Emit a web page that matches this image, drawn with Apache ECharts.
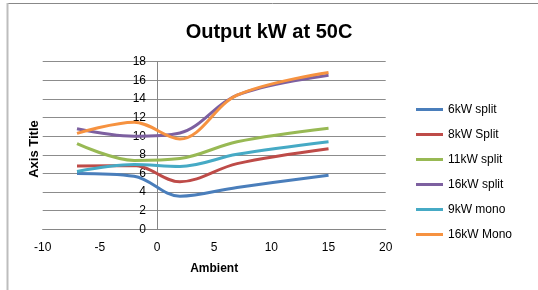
<!DOCTYPE html>
<html>
<head>
<meta charset="utf-8">
<script src="https://cdn.jsdelivr.net/npm/echarts@6/dist/echarts.min.js"></script>
<style>
  html, body { margin: 0; padding: 0; background: #fff; }
  #chart { width: 538px; height: 290px; }
</style>
</head>
<body>
<div id="chart"></div>
<script>
// ambient temperatures (C)
const ambient = [-7, -2, 2, 7, 15];

const seriesNames = ['6kW split', '8kW Split', '11kW split', '16kW split', '9kW mono', '16kW Mono'];
const kw6split  = [6.0, 5.7, 3.55, 4.5, 5.8];
const kw8split  = [6.8, 6.85, 5.1, 7.05, 8.65];
const kw11split = [9.2, 7.4, 7.6, 9.4, 10.85];
const kw16split = [10.8, 10.0, 10.35, 14.4, 16.55];
const kw9mono   = [6.2, 6.95, 6.75, 8.05, 9.4];
const kw16mono  = [10.3, 11.5, 9.7, 14.4, 16.85];
const seriesColors = ['#4a7ebb', '#be4b48', '#98b954', '#7d60a0', '#46aac5', '#f69240'];

const allValues = [kw6split, kw8split, kw11split, kw16split, kw9mono, kw16mono];

const font = '"Liberation Sans", Arial, sans-serif';

let myChart = echarts.init(document.getElementById('chart'), null, { renderer: 'canvas' });

let option = {
  animation: false,
  title: {
    text: 'Output kW at 50C',
    left: 'center',
    top: 17,
    textStyle: { fontFamily: font, fontSize: 20, fontWeight: 'bold', color: '#000' }
  },
  grid: { left: 42.7, right: 152.3, top: 61.7, bottom: 60.7 },
  legend: {
    orient: 'vertical',
    left: 411,
    top: 97.5,
    itemWidth: 27,
    itemHeight: 3,
    itemGap: 11,
    icon: 'rect',
    data: seriesNames,
    textStyle: { fontFamily: font, fontSize: 12, color: '#000', lineHeight: 14 }
  },
  xAxis: {
    type: 'value',
    min: -10,
    max: 20,
    interval: 5,
    name: 'Ambient',
    nameLocation: 'middle',
    nameGap: 33,
    nameTextStyle: { fontFamily: font, fontSize: 12, fontWeight: 'bold', color: '#000' },
    axisLine: { lineStyle: { color: '#868686', width: 1 } },
    axisTick: { show: false },
    splitLine: { show: false },
    axisLabel: { fontFamily: font, fontSize: 12, color: '#000', margin: 12 }
  },
  yAxis: {
    type: 'value',
    min: 0,
    max: 18,
    interval: 2,
    position: 'left',
    // the value axis crosses at ambient = 0, labels sit beside it
    offset: -114.3,
    axisLine: { show: true, onZero: false, lineStyle: { color: '#868686', width: 1 } },
    axisTick: { show: false },
    splitLine: { lineStyle: { color: '#8c8c8c', width: 1 } },
    axisLabel: { fontFamily: font, fontSize: 12, color: '#000', margin: 11 }
  },
  graphic: [
    { type: 'line', shape: { x1: 7, y1: 3.5, x2: 538, y2: 3.5 }, style: { stroke: '#888', lineWidth: 1 } },
    { type: 'line', shape: { x1: 7.5, y1: 3, x2: 7.5, y2: 290 }, style: { stroke: '#bdbdbd', lineWidth: 2 } },
    {
      type: 'text',
      x: 34, y: 149,
      rotation: Math.PI / 2,
      style: {
        text: 'Axis Title',
        font: 'bold 13px ' + font,
        fill: '#000',
        align: 'center',
        verticalAlign: 'middle'
      }
    }
  ],
  series: seriesNames.map(function (name, i) {
    return {
      name: name,
      type: 'line',
      smooth: 0.35,
      showSymbol: false,
      symbol: 'none',
      color: seriesColors[i],
      lineStyle: { width: 3, color: seriesColors[i] },
      data: ambient.map(function (x, j) { return [x, allValues[i][j]]; })
    };
  })
};

myChart.setOption(option);
</script>
</body>
</html>
